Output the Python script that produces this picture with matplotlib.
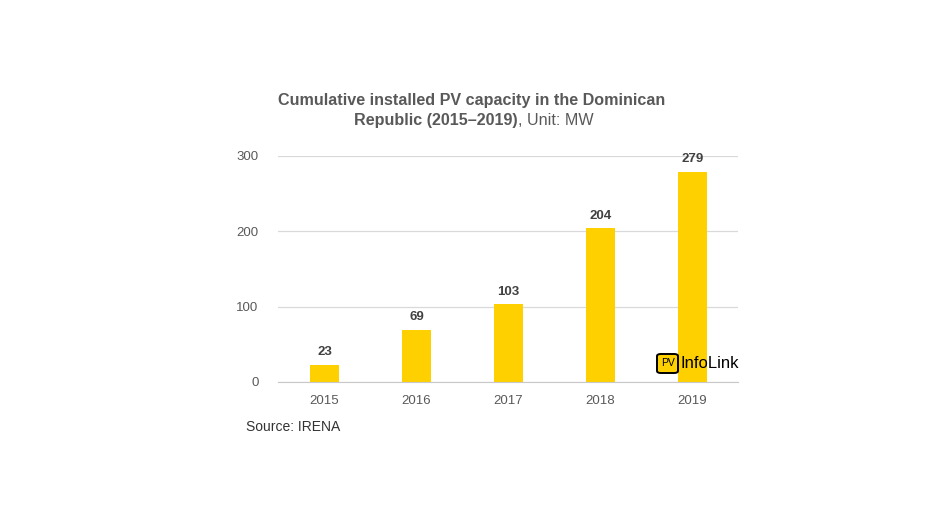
import matplotlib
matplotlib.use('Agg')
import matplotlib.pyplot as plt
from matplotlib.patches import FancyBboxPatch

years = ['2015', '2016', '2017', '2018', '2019']
capacity = [23, 69, 103, 204, 279]
yticks = [0, 100, 200, 300]

plt.rcParams['font.family'] = ['Liberation Sans', 'DejaVu Sans']

fig = plt.figure(figsize=(9.44, 5.31), dpi=100)
ax = fig.add_axes([278/944, 1-382/531, 460/944, 226/531])

x = range(len(years))
ax.bar(x, capacity, width=0.315, color='#FFD000', zorder=3)
for i, v in zip(x, capacity):
    ax.text(i, v + 9, str(v), ha='center', va='bottom', fontsize=9.5,
            fontweight='bold', color='#404040')

ax.set_xlim(-0.505, 4.495)
ax.set_ylim(0, 300)
ax.set_yticks(yticks)
ax.set_xticks(list(x))
ax.set_xticklabels(years)
ax.tick_params(axis='both', length=0, labelsize=9.5, labelcolor='#595959')
ax.tick_params(axis='y', pad=14)
ax.tick_params(axis='x', pad=9)
ax.grid(axis='y', color='#d9d9d9', linewidth=0.9, zorder=0)
for s in ['top', 'right', 'left']:
    ax.spines[s].set_visible(False)
ax.spines['bottom'].set_color('#c8c8c8')
ax.spines['bottom'].set_zorder(4)

# title
fig.text(472/944, 1-101/531, 'Cumulative installed PV capacity in the Dominican',
         ha='center', va='center', fontsize=11.6, fontweight='bold', color='#595959')
fig.canvas.draw()
r = fig.canvas.get_renderer()
t1 = fig.text(0, 1-121/531, 'Republic (2015\u20132019)', ha='left', va='center',
              fontsize=11.6, fontweight='bold', color='#595959')
t2 = fig.text(0, 1-121/531, ', Unit: MW', ha='left', va='center',
              fontsize=11.6, color='#595959')
w1 = t1.get_window_extent(r).width
w2 = t2.get_window_extent(r).width
x0 = 474 - (w1 + w2) / 2
t1.set_x(x0 / 944)
t2.set_x((x0 + w1) / 944)

# source
fig.text(246/944, 1-427/531, 'Source: IRENA', ha='left', va='center',
         fontsize=10, color='#333333')

# logo
box = FancyBboxPatch((657/944, 1-373/531), 21/944, 19/531,
                     boxstyle='round,pad=0,rounding_size=0.004',
                     transform=fig.transFigure, facecolor='#FFD000',
                     edgecolor='black', linewidth=1.4, zorder=10)
fig.patches.append(box)
fig.text(667.5/944, 1-363.5/531, 'PV', ha='center', va='center', fontsize=7.5,
         color='black', zorder=11)
fig.text(681/944, 1-364/531, 'InfoLink', ha='left', va='center', fontsize=12,
         fontweight='medium', color='black', zorder=11)

fig.savefig('out.png', dpi=100)
